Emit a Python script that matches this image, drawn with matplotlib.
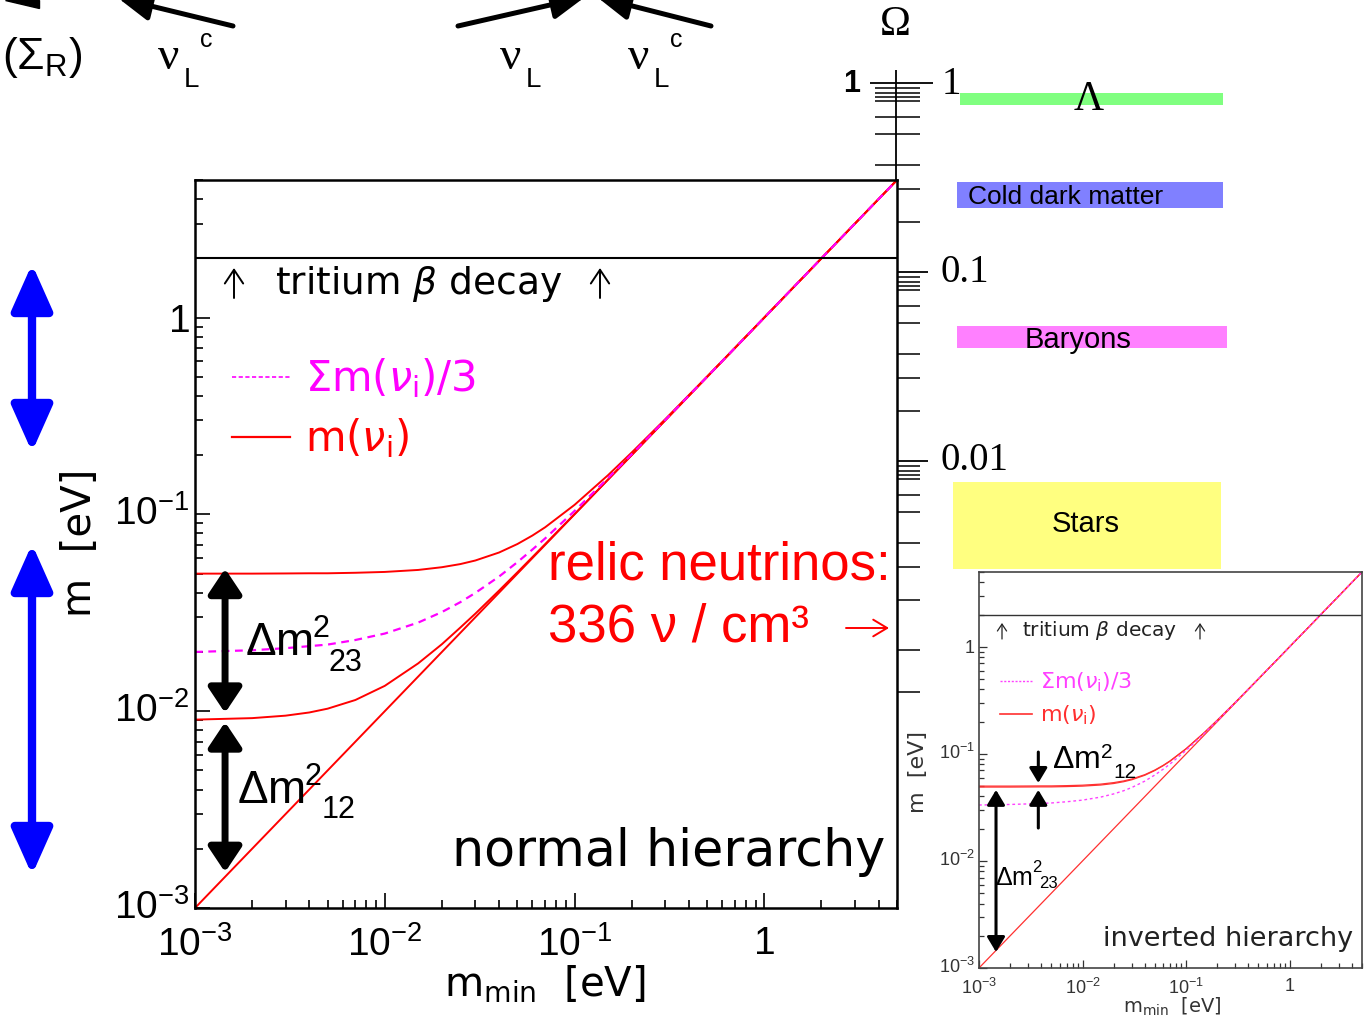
import matplotlib
matplotlib.use('Agg')
import matplotlib.pyplot as plt
from matplotlib.ticker import NullFormatter, LogLocator
from matplotlib.transforms import ScaledTranslation

plt.rcParams['font.family'] = ['Liberation Sans', 'DejaVu Sans']
plt.rcParams['mathtext.fontset'] = 'custom'
plt.rcParams['mathtext.rm'] = 'Liberation Sans'
plt.rcParams['mathtext.it'] = 'Liberation Sans:italic'
plt.rcParams['mathtext.bf'] = 'Liberation Sans:bold'
plt.rcParams['mathtext.default'] = 'regular'

W, H = 1366, 1017

# ---- data (eV) ----
m_min = [0.001, 0.002, 0.003, 0.004, 0.005, 0.007, 0.01, 0.015, 0.02, 0.025, 0.03, 0.04,
         0.05, 0.06, 0.07, 0.1, 0.15, 0.2, 0.3, 0.5, 1.0, 2.0, 5.0]

# normal hierarchy (m1 = m_min)
nh_m2 = [0.00906, 0.00922, 0.00949, 0.00985, 0.0103, 0.0114, 0.01345, 0.0175, 0.0219, 0.0266,
         0.0313, 0.0410, 0.0508, 0.0607, 0.0706, 0.1004, 0.1503, 0.2002, 0.3001, 0.5001,
         1.0, 2.0, 5.0]
nh_m3 = [0.0500, 0.0500, 0.0501, 0.0502, 0.0502, 0.0505, 0.0510, 0.0522, 0.0539, 0.0559,
         0.0583, 0.0640, 0.0707, 0.0781, 0.0860, 0.1118, 0.1581, 0.2062, 0.3041, 0.5025,
         1.0012, 2.0006, 5.0002]
nh_avg = [0.0200, 0.0204, 0.0209, 0.0214, 0.0218, 0.0230, 0.0248, 0.0282, 0.0319, 0.0358,
          0.0399, 0.0483, 0.0572, 0.0663, 0.0755, 0.1041, 0.1528, 0.2021, 0.3014, 0.5009,
          1.0004, 2.0002, 5.0001]

# inverted hierarchy (m3 = m_min)
ih_m1 = [0.0490, 0.0490, 0.0491, 0.0492, 0.0492, 0.0495, 0.0500, 0.0512, 0.0529, 0.0550,
         0.0574, 0.0632, 0.0700, 0.0775, 0.0854, 0.1114, 0.1578, 0.2059, 0.3039, 0.5024,
         1.0012, 2.0006, 5.0002]
ih_m2 = [0.0500, 0.0500, 0.0501, 0.0502, 0.0502, 0.0505, 0.0510, 0.0522, 0.0539, 0.0559,
         0.0583, 0.0640, 0.0707, 0.0781, 0.0860, 0.1118, 0.1581, 0.2062, 0.3041, 0.5025,
         1.0012, 2.0006, 5.0002]
ih_avg = [0.0333, 0.0337, 0.0341, 0.0345, 0.0348, 0.0357, 0.0370, 0.0395, 0.0423, 0.0453,
          0.0486, 0.0557, 0.0636, 0.0719, 0.0805, 0.1077, 0.1553, 0.2040, 0.3027, 0.5016,
          1.0008, 2.0004, 5.0001]

tritium_limit = 2.0

# cosmological density bands (Omega)
band_names = ['', 'Cold dark matter', 'Baryons', 'Stars']
band_lo = [0.765, 0.218, 0.0396, 0.00268]
band_hi = [0.885, 0.2995, 0.0518, 0.00774]
band_colors = ['#80ff80', '#8080ff', '#ff80ff', '#ffff80']

omega_major = [1.0, 0.1, 0.01]
omega_minor_mant = [0.94, 0.885, 0.845, 0.80, 0.66, 0.54, 0.37, 0.275, 0.185]
omega_extra = [0.001, 0.0006]

xticks = [1e-3, 1e-2, 1e-1, 1.0]
xticklabels = [r'$10^{-3}$', r'$10^{-2}$', r'$10^{-1}$', '1']
yticklabels = [r'$10^{-3}$', r'$10^{-2}$', r'$10^{-1}$', r'$1\enspace\;$']

DV = dict(family='DejaVu Sans', math_fontfamily='dejavusans')


def px_rect(l, t, r, b):
    return [l / W, 1 - b / H, (r - l) / W, (b - t) / H]


fig = plt.figure(figsize=(W / 100, H / 100), dpi=100)


def shift_ylabels(axis, dy_px, skip_last=True):
    ticks = axis.yaxis.get_major_ticks()
    n = len(ticks) - 1 if skip_last else len(ticks)
    for t in ticks[:n]:
        t.label1.set_transform(t.label1.get_transform()
                               + ScaledTranslation(0, dy_px / 100, fig.dpi_scale_trans))


def dm_label(axis, x, y, sub, fs, fs2, sup_off, sub_off):
    axis.text(x, y, r'$\Delta$m', fontsize=fs, va='baseline')
    axis.annotate('2', xy=(x, y), xytext=sup_off, textcoords='offset points',
                  fontsize=fs2, va='baseline')
    axis.annotate(sub, xy=(x, y), xytext=sub_off, textcoords='offset points',
                  fontsize=fs2, va='baseline')


# ---- Omega scale and bands ----
om = fig.add_axes(px_rect(830, 55, 1240, 908))
om.set_yscale('log')
om.set_xlim(830, 1240)
om.set_ylim(10 ** (-(908 - 83) / 189), 10 ** ((83 - 55) / 189))
om.axis('off')
box_top = 10 ** (-(180 - 83) / 189)
om.vlines(896, box_top, 1.17, color='k', lw=1.3)
for w in omega_major:
    om.hlines(w, 870 if w > box_top else 897, 933 if w == 1 else 928, color='k', lw=1.3)
for dec in omega_major:
    for f in omega_minor_mant:
        w = dec * f
        om.hlines(w, 875 if w > box_top else 897, 920, color='k', lw=1.1)
for w in omega_extra:
    om.hlines(w, 897, 920, color='k', lw=1.1)
band_x = [(960, 1223), (957, 1223), (957, 1227), (953, 1221)]
for (x0, x1), lo, hi, c in zip(band_x, band_lo, band_hi, band_colors):
    om.fill_between([x0, x1], lo, hi, color=c, lw=0)

# ---- main plot: normal hierarchy ----
ax = fig.add_axes(px_rect(195, 180, 897, 908))
ax.set_xscale('log')
ax.set_yscale('log')
ax.set_xlim(1e-3, 5)
ax.set_ylim(1e-3, 5)
ax.plot(m_min, m_min, color='red', lw=1.4)
ax.plot(m_min, nh_m2, color='red', lw=1.4)
ax.plot(m_min, nh_m3, color='red', lw=1.4)
ax.plot(m_min, nh_avg, color='#ff00ff', lw=1.6, dashes=(3.5, 2.5))
ax.axhline(tritium_limit, color='k', lw=1.5)
for s in ax.spines.values():
    s.set_linewidth(1.8)
ax.set_xticks(xticks)
ax.set_xticklabels(xticklabels)
ax.set_yticks(xticks)
ax.set_yticklabels(yticklabels)
ax.xaxis.set_minor_locator(LogLocator(subs=range(2, 10)))
ax.yaxis.set_minor_locator(LogLocator(subs=range(2, 10)))
ax.xaxis.set_minor_formatter(NullFormatter())
ax.yaxis.set_minor_formatter(NullFormatter())
ax.tick_params(which='both', direction='in', top=False, right=False, width=1.2, labelsize=28)
ax.tick_params(which='major', length=11)
ax.tick_params(which='minor', length=6)
ax.tick_params(axis='x', pad=13)
ax.tick_params(axis='y', pad=4)
shift_ylabels(ax, 4)

big = dict(arrowstyle='<|-|>,head_length=0.6,head_width=0.4', mutation_scale=25,
           lw=5, color='k', shrinkA=0, shrinkB=0)
ax.annotate('', xy=(1.44e-3, 0.053), xytext=(1.44e-3, 0.0098), arrowprops=big)
ax.annotate('', xy=(1.44e-3, 0.0088), xytext=(1.44e-3, 0.00152), arrowprops=big)
dm_label(ax, 1.83e-3, 0.0192, '23', 33, 22, (49, 13), (60, -11))
dm_label(ax, 1.663e-3, 0.00341, '12', 33, 22, (49, 13), (61, -11))

# ---- inset: inverted hierarchy ----
ins = fig.add_axes(px_rect(979, 572, 1362, 968))
ins.set_xscale('log')
ins.set_yscale('log')
ins.set_xlim(1e-3, 5)
ins.set_ylim(1e-3, 5)
ins.plot(m_min, m_min, color='#ff3030', lw=0.9)
ins.plot(m_min, ih_m1, color='#ff3030', lw=0.9)
ins.plot(m_min, ih_m2, color='#ff3030', lw=0.9)
ins.plot(m_min, ih_avg, color='#ff40ff', lw=1.0, dashes=(2, 2))
ins.axhline(tritium_limit, color='#333333', lw=1.0)
for s in ins.spines.values():
    s.set_linewidth(1.2)
    s.set_color('#444444')
ins.set_xticks(xticks)
ins.set_xticklabels(xticklabels)
ins.set_yticks(xticks)
ins.set_yticklabels(yticklabels)
ins.xaxis.set_minor_locator(LogLocator(subs=range(2, 10)))
ins.yaxis.set_minor_locator(LogLocator(subs=range(2, 10)))
ins.xaxis.set_minor_formatter(NullFormatter())
ins.yaxis.set_minor_formatter(NullFormatter())
ins.tick_params(which='both', direction='in', top=False, right=False, width=0.9,
                labelsize=13, colors='#333333')
ins.tick_params(which='major', length=6)
ins.tick_params(which='minor', length=3.5)
ins.tick_params(axis='x', pad=7)
ins.tick_params(axis='y', pad=3)
shift_ylabels(ins, 3)

small = dict(arrowstyle='<|-|>,head_length=0.75,head_width=0.45', mutation_scale=12,
             lw=2.2, color='k', shrinkA=0, shrinkB=0)
dm_label(ins, 1.43e-3, 0.00597, '23', 18, 12, (27, 9), (32, -2))
ins.annotate('', xy=(1.46e-3, 0.0461), xytext=(1.46e-3, 0.00141), arrowprops=small)
one = dict(arrowstyle='-|>,head_length=0.75,head_width=0.45', mutation_scale=12,
           lw=2.2, color='k', shrinkA=0, shrinkB=0)
ins.annotate('', xy=(3.74e-3, 0.0535), xytext=(3.74e-3, 0.104), arrowprops=one)
ins.annotate('', xy=(3.74e-3, 0.0461), xytext=(3.74e-3, 0.0203), arrowprops=one)
dm_label(ins, 5.11e-3, 0.074, '12', 23, 15, (35, 7), (44, -7))

# ---- overlay in pixel coordinates for labels and decorations ----
bg = fig.add_axes([0, 0, 1, 1])
bg.set_xlim(0, W)
bg.set_ylim(H, 0)
bg.axis('off')
bg.patch.set_alpha(0)

# axis titles
bg.text(545, 985, r'm$_\mathrm{min}$  [eV]', fontsize=29, ha='center', va='center', **DV)
bg.text(80, 543, 'm  [eV]', fontsize=29, ha='center', va='center', rotation=90, **DV)
bg.text(1172, 996, r'm$_\mathrm{min}$  [eV]', fontsize=14, ha='center', va='top',
        color='#333333', **DV)
bg.text(918, 772, 'm  [eV]', fontsize=16, ha='center', va='center', rotation=90,
        color='#333333', **DV)

# thin "up" arrows around the tritium labels
up = dict(arrowstyle='->,head_length=0.45,head_width=0.3', mutation_scale=22,
          lw=1.4, color='k', shrinkA=0, shrinkB=0)
up_small = dict(arrowstyle='->,head_length=0.45,head_width=0.3', mutation_scale=11,
                lw=0.9, color='#222222', shrinkA=0, shrinkB=0)
for xa in (234, 600):
    bg.annotate('', xy=(xa, 268), xytext=(xa, 298), arrowprops=up)
for xa in (1002, 1200):
    bg.annotate('', xy=(xa, 623), xytext=(xa, 639), arrowprops=up_small)

# main plot labels
bg.text(275, 284, r'tritium $\mathit{\beta}$ decay', fontsize=27, va='center', **DV)
bg.plot([232, 290], [377, 377], color='#ff00ff', lw=1.2, dashes=(2.5, 1.5))
bg.plot([232, 290], [437, 437], color='red', lw=1.6)
bg.text(305, 378, r'$\Sigma\mathrm{m}(\mathit{\nu}_\mathrm{i})/3$', fontsize=30, va='center',
        color='#ff00ff', **DV)
bg.text(305, 438, r'$\mathrm{m}(\mathit{\nu}_\mathrm{i})$', fontsize=30, va='center',
        color='red', **DV)
bg.text(885, 852, 'normal hierarchy', fontsize=36.5, ha='right', va='center', **DV)
bg.text(548, 565, 'relic neutrinos:', fontsize=38, va='center', color='red')
bg.text(548, 627, '336 ν / cm³', fontsize=38, va='center', color='red')
bg.annotate('', xy=(889, 628), xytext=(846, 628), annotation_clip=False,
            arrowprops=dict(arrowstyle='->,head_length=0.5,head_width=0.3', mutation_scale=20,
                            lw=1.4, color='red', shrinkA=0, shrinkB=0))

# inset labels
bg.text(1022, 631, r'tritium $\mathit{\beta}$ decay', fontsize=14.5, va='center',
        color='#222222', **DV)
bg.plot([1000, 1032], [681, 681], color='#ff40ff', lw=1.0, dashes=(1.5, 1.2))
bg.plot([1000, 1032], [714, 714], color='#ff3030', lw=1.2)
bg.text(1040, 682, r'$\Sigma\mathrm{m}(\mathit{\nu}_\mathrm{i})/3$', fontsize=16, va='center',
        color='#ff40ff', **DV)
bg.text(1040, 715, r'$\mathrm{m}(\mathit{\nu}_\mathrm{i})$', fontsize=16, va='center',
        color='#ff3030', **DV)
bg.text(1353, 939, 'inverted hierarchy', fontsize=19.5, ha='right', va='center',
        color='#222222', **DV)

# Omega scale labels
bg.text(895, 25, 'Ω', fontsize=30, ha='center', va='center', family='Liberation Serif')
bg.text(852, 84, '1', fontsize=22, ha='center', va='center', weight='bold')
bg.text(942, 84, '1', fontsize=28, va='center', family='Liberation Serif')
bg.text(940, 272, '0.1', fontsize=28, va='center', family='Liberation Serif')
bg.text(940, 460, '0.01', fontsize=28, va='center', family='Liberation Serif')
bg.text(1089, 100, 'Λ', fontsize=30, ha='center', va='center', family='Liberation Serif')
band_label_xy = [(1089, 100), (1066, 197), (1078, 340), (1086, 524)]
band_label_size = [0, 19, 21, 21]
for name, (x, y), fs in zip(band_names, band_label_xy, band_label_size):
    if name:
        bg.text(x, y, name, fontsize=fs, ha='center', va='center')

# blue double arrows on the left
blue = dict(arrowstyle='<|-|>,head_length=0.9,head_width=0.4', mutation_scale=31,
            lw=6, color='#0000ff', shrinkA=0, shrinkB=0)
bg.annotate('', xy=(32, 264), xytext=(32, 452), arrowprops=blue)
bg.annotate('', xy=(32, 544), xytext=(32, 875), arrowprops=blue)

# top: particle labels and arrows
bg.text(2, 57, r'$(\Sigma_{R})$', fontsize=32, va='center')
for xn, conj in [(158, True), (500, False), (628, True)]:
    bg.text(xn, 58, 'ν', fontsize=34, va='center', family='Liberation Serif')
    bg.text(xn + 26, 80, 'L', fontsize=20, va='center')
    if conj:
        bg.text(xn + 42, 40, 'c', fontsize=18, va='center')
top = dict(arrowstyle='-|>,head_length=0.9,head_width=0.4', mutation_scale=22,
           lw=3.6, color='k', shrinkA=0, shrinkB=0)
bg.annotate('', xy=(118, -2), xytext=(233, 26), arrowprops=top, annotation_clip=False)
bg.annotate('', xy=(585, -3), xytext=(458, 26), arrowprops=top, annotation_clip=False)
bg.annotate('', xy=(597, -3), xytext=(711, 26), arrowprops=top, annotation_clip=False)
bg.fill([5, 39, 39], [0, 0, 8], color='k')

fig.savefig('out.png', dpi=100)
